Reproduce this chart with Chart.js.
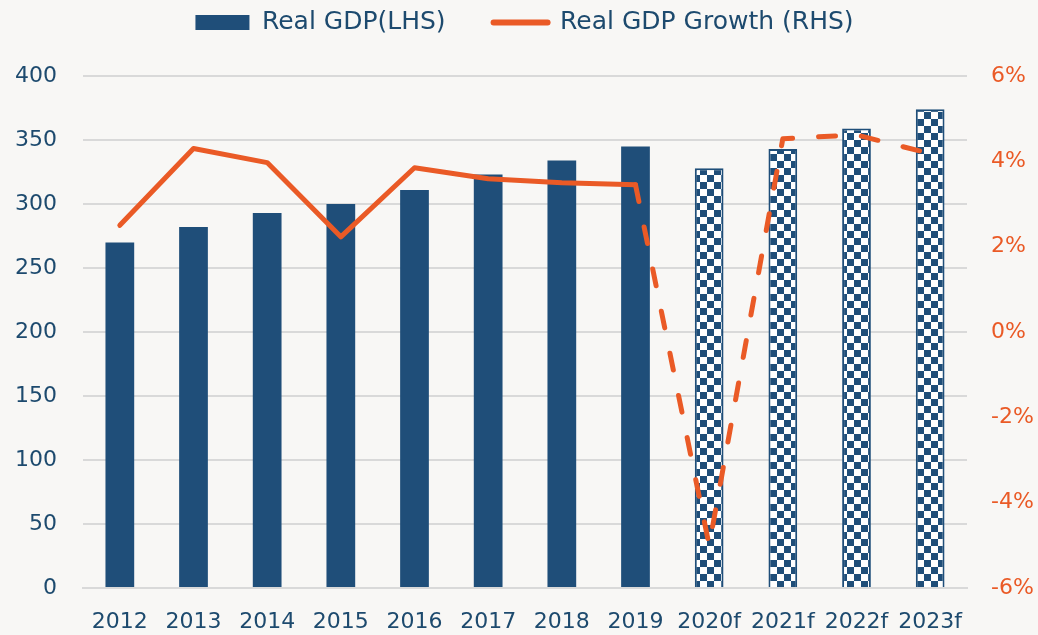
<!DOCTYPE html>
<html>
<head>
<meta charset="utf-8">
<script src="https://cdn.jsdelivr.net/npm/chart.js@4"></script>
<style>
    html, body { margin: 0; padding: 0; background: #f8f7f5; }
    #wrap { width: 1038px; height: 635px; }
</style>
</head>
<body>
<div id="wrap"><canvas id="grafico"></canvas></div>
<script>
/* ----- Datos ----- */
const anios = ["2012","2013","2014","2015","2016","2017","2018","2019","2020f","2021f","2022f","2023f"];
const pibReal = [270, 282, 293, 300, 311, 323, 334, 345, 328, 343, 359, 374];
const crecimiento = [2.5, 4.3, 3.97, 2.23, 3.85, 3.59, 3.5, 3.45, -5.0, 4.53, 4.62, 4.18];
const ticksIzq = [0, 400, 50];   // min, max, paso
const ticksDer = [-6, 6, 2];
const primerPronostico = 8; // desde 2020f son pronósticos

const azul = "#1f4e79";
const textoAzul = "#1d4a6e";
const naranja = "#ea5a26";
const fuente = "'DejaVu Sans', sans-serif";

/* ----- Patrón de cuadros ----- */
function patronCuadros() {
    const c = document.createElement("canvas");
    c.width = 14; c.height = 14;
    const g = c.getContext("2d");
    g.fillStyle = "#ffffff";
    g.fillRect(0, 0, 14, 14);
    g.fillStyle = azul;
    g.fillRect(0, 0, 7, 7);
    g.fillRect(7, 7, 7, 7);
    return g.createPattern(c, "repeat");
}
const cuadros = patronCuadros();

const colores = anios.map((a, i) => i >= primerPronostico ? cuadros : azul);

/* ----- Más espacio bajo la leyenda ----- */
const espacioLeyenda = {
    id: "espacioLeyenda",
    beforeInit(chart) {
        const fitOriginal = chart.legend.fit;
        chart.legend.fit = function () {
            fitOriginal.call(this);
            this.height += 31;
        };
    }
};

new Chart(document.getElementById("grafico"), {
    plugins: [espacioLeyenda],
    data: {
        labels: anios,
        datasets: [{
            type: "bar",
            label: "Real GDP(LHS)",
            data: pibReal,
            backgroundColor: colores,
            borderColor: azul,
            borderWidth: anios.map((a, i) => i >= primerPronostico ? 2 : 0),
            barPercentage: 0.39,
            categoryPercentage: 1,
            yAxisID: "y",
            order: 1
        }, {
            type: "line",
            label: "Real GDP Growth (RHS)",
            data: crecimiento,
            borderColor: naranja,
            backgroundColor: naranja,
            borderWidth: 5,
            borderCapStyle: "round",
            borderJoinStyle: "round",
            pointRadius: 0,
            tension: 0,
            yAxisID: "y1",
            order: 0,
            segment: {
                borderDash: ctx => ctx.p0DataIndex >= primerPronostico - 1 ? [17, 26] : undefined
            }
        }]
    },
    options: {
        responsive: true,
        maintainAspectRatio: false,
        animation: false,
        layout: { padding: { left: 15, right: 4, top: -38, bottom: 0 } },
        plugins: {
            tooltip: { enabled: false },
            legend: {
                position: "top",
                labels: {
                    usePointStyle: true,
                    pointStyleWidth: 54,
                    boxWidth: 54,
                    boxHeight: 15,
                    padding: 48,
                    color: textoAzul,
                    font: { family: fuente, size: 25 },
                    generateLabels: chart => [
                        { text: "Real GDP(LHS)", fillStyle: azul, strokeStyle: azul, lineWidth: 0,
                          pointStyle: "rect", fontColor: textoAzul, datasetIndex: 0 },
                        { text: "Real GDP Growth (RHS)", fillStyle: naranja, strokeStyle: naranja, lineWidth: 6,
                          lineCap: "round", pointStyle: "line", fontColor: textoAzul, datasetIndex: 1 }
                    ]
                }
            }
        },
        scales: {
            x: {
                grid: { display: false },
                border: { display: true, color: "#d9d9d9", width: 2 },
                ticks: { color: textoAzul, font: { family: fuente, size: 22 }, padding: 13, maxRotation: 0 },
                afterFit: s => { s.height = 47; }
            },
            y: {
                position: "left",
                min: ticksIzq[0], max: ticksIzq[1],
                ticks: { stepSize: ticksIzq[2], color: textoAzul, font: { family: fuente, size: 22 }, padding: 26 },
                grid: { color: "#d9d9d9", lineWidth: 2, drawTicks: false },
                border: { display: false },
                afterFit: s => { s.width = 68; }
            },
            y1: {
                position: "right",
                min: ticksDer[0], max: ticksDer[1],
                ticks: {
                    stepSize: ticksDer[2], color: naranja, padding: 24,
                    font: { family: fuente, size: 22 },
                    callback: v => v + "%"
                },
                grid: { display: false, drawTicks: false },
                border: { display: false },
                afterFit: s => { s.width = 67; }
            }
        }
    }
});
</script>
</body>
</html>
